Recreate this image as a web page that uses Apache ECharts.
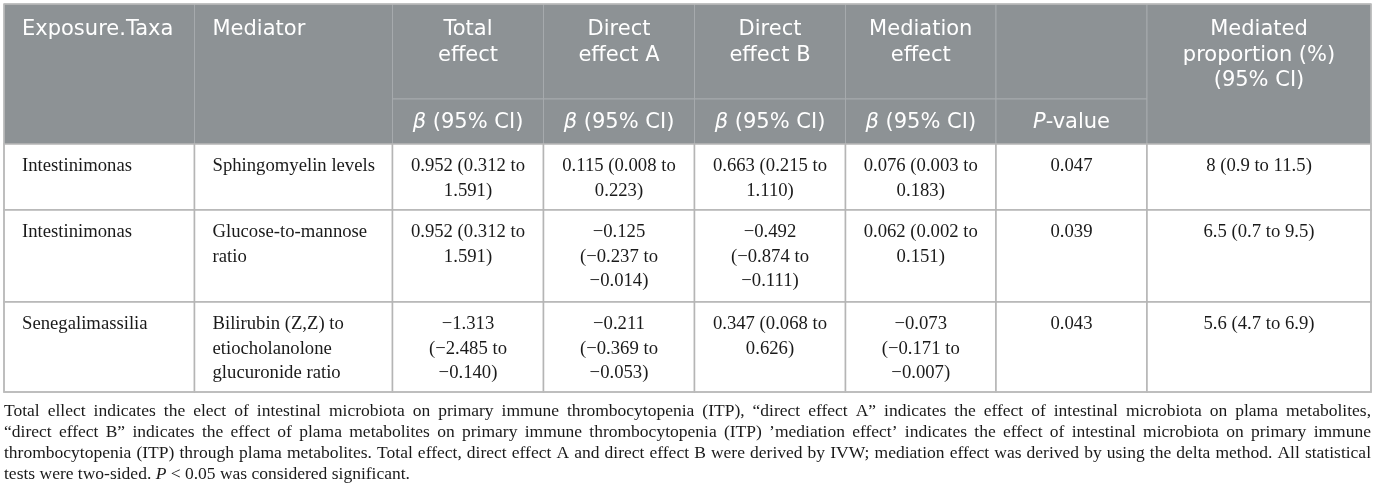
<!DOCTYPE html>
<html>
<head>
<meta charset="utf-8">
<script src="https://cdn.jsdelivr.net/npm/echarts@6/dist/echarts.min.js"></script>
<style>
  html, body { margin: 0; padding: 0; background: #fff; }
  #main { width: 1375px; height: 501px; }
</style>
</head>
<body>
<div id="main"></div>
<script>
// header labels
const headTop = ['Exposure.Taxa', 'Mediator', 'Total\neffect', 'Direct\neffect A', 'Direct\neffect B', 'Mediation\neffect', '', 'Mediated\nproportion (%)\n(95% CI)'];
const headSub = ['', '', '{i|\u03b2} (95% CI)', '{i|\u03b2} (95% CI)', '{i|\u03b2} (95% CI)', '{i|\u03b2} (95% CI)', '{i|P}-value', ''];

// rows
const exposure = ['Intestinimonas', 'Intestinimonas', 'Senegalimassilia'];
const mediator = ['Sphingomyelin levels', 'Glucose-to-mannose\nratio', 'Bilirubin (Z,Z) to\netiocholanolone\nglucuronide ratio'];
const totalB = [0.952, 0.952, -1.313];
const totalLo = [0.312, 0.312, -2.485];
const totalHi = [1.591, 1.591, -0.140];
const directAB = [0.115, -0.125, -0.211];
const directALo = [0.008, -0.237, -0.369];
const directAHi = [0.223, -0.014, -0.053];
const directBB = [0.663, -0.492, 0.347];
const directBLo = [0.215, -0.874, 0.068];
const directBHi = [1.110, -0.111, 0.626];
const medB = [0.076, 0.062, -0.073];
const medLo = [0.003, 0.002, -0.171];
const medHi = [0.183, 0.151, -0.007];
const pValue = [0.047, 0.039, 0.043];
const propEst = [8, 6.5, 5.6];
const propLo = [0.9, 0.7, 4.7];
const propHi = [11.5, 9.5, 6.9];

const footnote = [
  'Total ellect indicates the elect of intestinal microbiota on primary immune thrombocytopenia (ITP), \u201cdirect effect A\u201d indicates the effect of intestinal microbiota on plama metabolites,',
  '\u201cdirect effect B\u201d indicates the effect of plama metabolites on primary immune thrombocytopenia (ITP) \u2019mediation effect\u2019 indicates the effect of intestinal microbiota on primary immune',
  'thrombocytopenia (ITP) through plama metabolites. Total effect, direct effect A and direct effect B were derived by IVW; mediation effect was derived by using the delta method. All statistical',
  'tests were two-sided. P < 0.05 was considered significant.'
];

// layout
const colX = [4, 194.5, 392.5, 543.5, 694.5, 845.5, 996, 1147, 1371];
const rowY = [4, 99, 144, 210, 302, 392];
const sans = '"DejaVu Sans", sans-serif';
const serif = '"Liberation Serif", serif';

function num(v) {
  return (v < 0 ? '\u2212' : '') + Math.abs(v).toFixed(3);
}
function ci(b, lo, hi) {
  if (b < 0) return num(b) + '\n(' + num(lo) + ' to\n' + num(hi) + ')';
  return num(b) + ' (' + num(lo) + ' to\n' + num(hi) + ')';
}

const cells = [];
function add(c0, c1, r0, r1, text, kind, align) {
  cells.push({ box: [colX[c0], rowY[r0], colX[c1], rowY[r1]], text: text, kind: kind, align: align });
}

add(0, 1, 0, 2, headTop[0], 'headTop', 'left');
add(1, 2, 0, 2, headTop[1], 'headTop', 'left');
for (let c = 2; c <= 6; c++) {
  add(c, c + 1, 0, 1, headTop[c], 'headTop', 'center');
  add(c, c + 1, 1, 2, headSub[c], 'headSub', 'center');
}
add(7, 8, 0, 2, headTop[7], 'headTop', 'center');

for (let r = 0; r < exposure.length; r++) {
  const texts = [
    exposure[r],
    mediator[r],
    ci(totalB[r], totalLo[r], totalHi[r]),
    ci(directAB[r], directALo[r], directAHi[r]),
    ci(directBB[r], directBLo[r], directBHi[r]),
    ci(medB[r], medLo[r], medHi[r]),
    pValue[r].toFixed(3),
    propEst[r] + ' (' + propLo[r] + ' to ' + propHi[r] + ')'
  ];
  texts.forEach(function (t, c) {
    add(c, c + 1, r + 2, r + 3, t, 'body', c < 2 ? 'left' : 'center');
  });
}
// outer frame
cells.push({ box: [colX[0], rowY[0], colX[8], rowY[5]], text: '', kind: 'frame', align: 'left' });

function renderItem(params, api) {
  const cell = cells[params.dataIndex];
  const a = api.coord([api.value(0), api.value(1)]);
  const b = api.coord([api.value(2), api.value(3)]);
  const w = b[0] - a[0], h = b[1] - a[1];
  if (cell.kind === 'frame') {
    return { type: 'rect', shape: { x: a[0], y: a[1], width: w, height: h },
      style: { fill: null, stroke: '#bcbcbc', lineWidth: 1.5 } };
  }
  const head = cell.kind !== 'body';
  const tx = cell.align === 'left' ? a[0] + 18 : a[0] + w / 2;
  let ty, va, lh, font;
  if (cell.kind === 'headSub') {
    ty = a[1] + h / 2 + 1; va = 'middle'; lh = 26; font = '21px ' + sans;
  } else if (cell.kind === 'headTop') {
    ty = a[1] + 13; va = 'top'; lh = 25.5; font = '21px ' + sans;
  } else {
    ty = a[1] + 10; va = 'top'; lh = 24.5; font = '18.7px ' + serif;
  }
  return {
    type: 'group',
    children: [
      { type: 'rect', shape: { x: a[0], y: a[1], width: w, height: h },
        style: { fill: head ? '#8d9295' : '#ffffff', stroke: head ? '#a6aaad' : '#b5b5b5', lineWidth: head ? 1 : 1.5 } },
      { type: 'text', style: {
          text: cell.text, x: tx, y: ty, align: cell.align, verticalAlign: va,
          fill: head ? '#ffffff' : '#1a1a1a', font: font, lineHeight: lh,
          rich: { i: { fontStyle: 'italic', fontFamily: sans, fontSize: 21, fill: '#ffffff' } }
        } }
    ]
  };
}

// justified footnote
const ctx = document.createElement('canvas').getContext('2d');
const fnSize = 17.5, fnLH = 21, fnTop = 411, fnLeft = 4, fnRight = 1371;
const notes = [];
footnote.forEach(function (line, li) {
  const words = line.split(' ');
  const fonts = words.map(function (wd) { return (wd === 'P' ? 'italic ' : '') + fnSize + 'px "Liberation Serif"'; });
  const widths = words.map(function (wd, i) { ctx.font = fonts[i]; return ctx.measureText(wd).width; });
  ctx.font = fnSize + 'px "Liberation Serif"';
  const space = ctx.measureText(' ').width;
  const total = widths.reduce(function (s, v) { return s + v; }, 0);
  const last = li === footnote.length - 1;
  const gap = last ? space : Math.max(2, (fnRight - fnLeft - total) / (words.length - 1));
  let x = fnLeft;
  words.forEach(function (wd, i) {
    notes.push({ type: 'text', x: x, y: fnTop + li * fnLH, silent: true,
      style: { text: wd, font: fonts[i], fill: '#1a1a1a', align: 'left', verticalAlign: 'middle' } });
    x += widths[i] + gap;
  });
});

const chart = echarts.init(document.getElementById('main'));
chart.setOption({
  animation: false,
  grid: { left: 0, right: 0, top: 0, bottom: 0 },
  xAxis: { type: 'value', min: 0, max: 1375, show: false },
  yAxis: { type: 'value', min: 0, max: 501, inverse: true, show: false },
  graphic: notes,
  series: [{
    type: 'custom',
    silent: true,
    clip: false,
    renderItem: renderItem,
    encode: { x: [0, 2], y: [1, 3] },
    data: cells.map(function (c) { return c.box; })
  }]
});
</script>
</body>
</html>
